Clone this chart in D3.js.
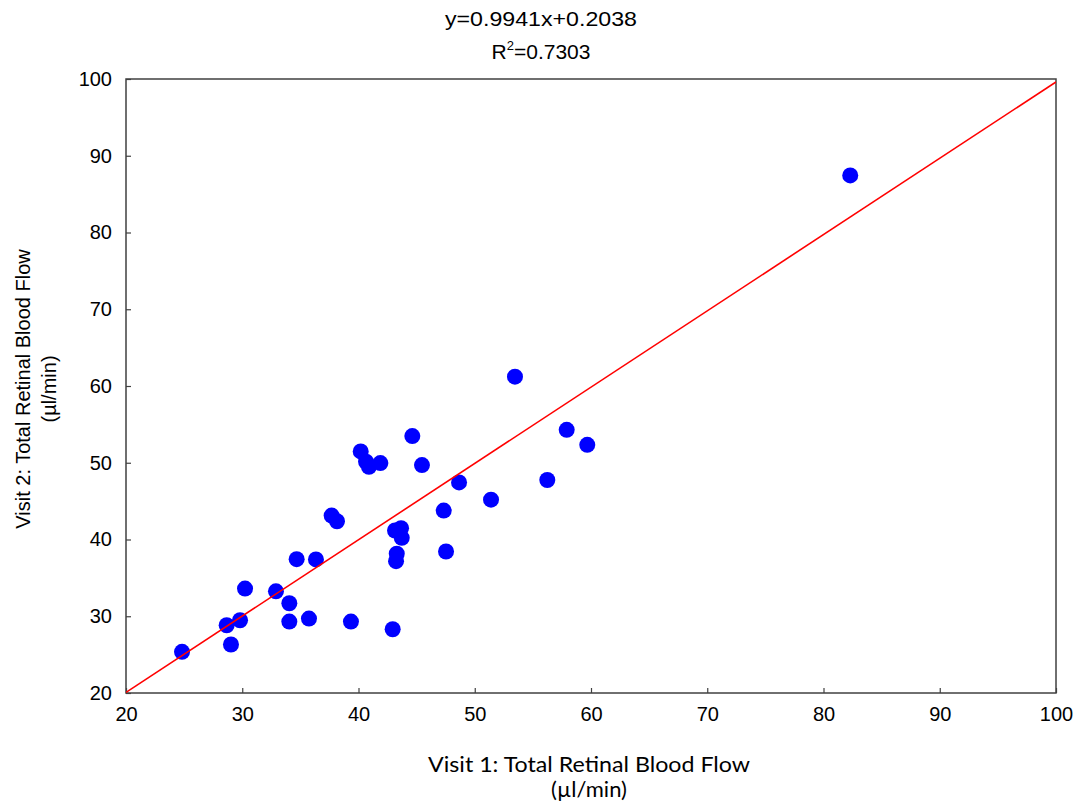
<!DOCTYPE html>
<html>
<head>
<meta charset="utf-8">
<script src="https://cdn.jsdelivr.net/npm/d3@7"></script>
<style>
  html, body { margin: 0; padding: 0; background: #fff; }
  svg { display: block; }
</style>
</head>
<body>
<svg id="chart" width="1081" height="805"></svg>
<script>
// Total retinal blood flow (µl/min) measured at two visits, one entry per eye
const visit1 = [24.82, 28.66, 29.03, 29.81, 30.24, 32.90, 34.05, 34.05, 34.68, 35.74,
                36.34, 37.69, 38.15, 39.35, 40.19, 40.65, 40.90, 41.88, 42.94, 43.14,
                43.66, 43.72, 43.29, 43.23, 44.63, 45.46, 47.33, 47.53, 48.65, 51.40,
                53.46, 56.24, 57.91, 59.68, 82.30];
const visit2 = [25.36, 28.83, 26.32, 29.48, 33.60, 33.25, 31.69, 29.31, 37.44, 29.70,
                37.40, 43.12, 42.38, 29.31, 51.47, 50.13, 49.48, 49.96, 28.31, 41.17,
                41.47, 40.22, 38.14, 37.18, 53.47, 49.70, 43.77, 38.44, 47.44, 45.19,
                61.21, 47.75, 54.29, 52.34, 87.44];

// Linear fit coefficients
const slope = 0.9941;
const intercept = 0.2038;
const rSquared = 0.7303;

const xTicks = [20, 30, 40, 50, 60, 70, 80, 90, 100];
const yTicks = [20, 30, 40, 50, 60, 70, 80, 90, 100];
const xDomain = [20, 100];
const yDomain = [20, 100];

const svg = d3.select("#chart");
const plot = { left: 126, right: 1056, top: 79, bottom: 693 };

const x = d3.scaleLinear().domain(xDomain).range([plot.left, plot.right]);
const y = d3.scaleLinear().domain(yDomain).range([plot.bottom, plot.top]);

const axisColor = "#404040";
const tickFont = "Liberation Sans, Arial, sans-serif";

// Frame around the plotting area
svg.append("rect")
  .attr("x", plot.left).attr("y", plot.top)
  .attr("width", plot.right - plot.left).attr("height", plot.bottom - plot.top)
  .attr("fill", "none").attr("stroke", axisColor).attr("stroke-width", 1.5);

// Bottom axis with inward ticks
const xAxis = svg.append("g")
  .attr("transform", `translate(0,${plot.bottom})`)
  .call(d3.axisBottom(x).tickValues(xTicks).tickSizeInner(-5).tickSizeOuter(0).tickPadding(14));
xAxis.select(".domain").remove();
xAxis.selectAll(".tick line").attr("stroke", axisColor).attr("stroke-width", 1.2);
xAxis.selectAll(".tick text")
  .attr("fill", "#000").style("font-family", tickFont).style("font-size", "20px");

// Left axis with inward ticks
const yAxis = svg.append("g")
  .attr("transform", `translate(${plot.left},0)`)
  .call(d3.axisLeft(y).tickValues(yTicks).tickSizeInner(-5).tickSizeOuter(0).tickPadding(14));
yAxis.select(".domain").remove();
yAxis.selectAll(".tick line").attr("stroke", axisColor).attr("stroke-width", 1.2);
yAxis.selectAll(".tick text")
  .attr("fill", "#000").style("font-family", tickFont).style("font-size", "20px");

// Clip for the regression line
svg.append("clipPath").attr("id", "plot-clip")
  .append("rect")
  .attr("x", plot.left).attr("y", plot.top)
  .attr("width", plot.right - plot.left).attr("height", plot.bottom - plot.top);

// Data points
svg.append("g")
  .selectAll("circle")
  .data(visit1.map((v, i) => ({ v1: v, v2: visit2[i] })))
  .join("circle")
  .attr("cx", d => x(d.v1))
  .attr("cy", d => y(d.v2))
  .attr("r", 8)
  .attr("fill", "#0000ff");

// Regression line across the full x range
const fitLine = xDomain.map(v => [v, slope * v + intercept]);
svg.append("path")
  .attr("clip-path", "url(#plot-clip)")
  .attr("d", d3.line().x(d => x(d[0])).y(d => y(d[1]))(fitLine))
  .attr("fill", "none")
  .attr("stroke", "#ff0000")
  .attr("stroke-width", 1.6);

// Equation and R² above the plot
const titleFont = "Liberation Sans, Arial, sans-serif";
svg.append("text")
  .attr("x", 541).attr("y", 26)
  .attr("text-anchor", "middle")
  .attr("textLength", 192).attr("lengthAdjust", "spacingAndGlyphs")
  .style("font-family", titleFont).style("font-size", "21px")
  .text(`y=${slope}x+${intercept}`);
const r2 = svg.append("text")
  .attr("x", 541).attr("y", 59)
  .attr("text-anchor", "middle")
  .style("font-family", titleFont).style("font-size", "21px")
  .style("font-stretch", "condensed");
r2.append("tspan").text("R");
r2.append("tspan").attr("dy", -9).style("font-size", "13px").text("2");
r2.append("tspan").attr("dy", 9).text(`=${rSquared}`);

// X axis title
const xTitle = svg.append("text")
  .attr("text-anchor", "middle")
  .style("font-family", "Lato, Open Sans, sans-serif").style("font-size", "22px")
  .attr("fill", "#000");
xTitle.append("tspan").attr("x", 589).attr("y", 772)
  .attr("textLength", 322).attr("lengthAdjust", "spacingAndGlyphs")
  .text("Visit 1: Total Retinal Blood Flow");
xTitle.append("tspan").attr("x", 589).attr("y", 797).text("(µl/min)");

// Y axis title
const yTitle = svg.append("text")
  .attr("transform", "translate(0,389) rotate(-90)")
  .attr("text-anchor", "middle")
  .style("font-family", tickFont).style("font-size", "20px")
  .attr("fill", "#000");
yTitle.append("tspan").attr("x", 0).attr("y", 30).text("Visit 2: Total Retinal Blood Flow");
yTitle.append("tspan").attr("x", 0).attr("y", 56).text("(µl/min)");
</script>
</body>
</html>
